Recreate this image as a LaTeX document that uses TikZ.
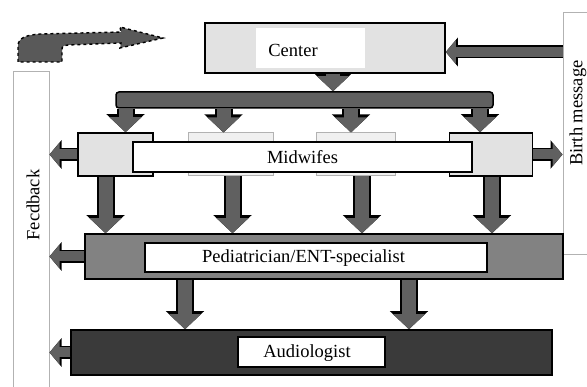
\documentclass[tikz,border=0pt]{standalone}
\usepackage{fontspec}
\setmainfont{Liberation Serif}
\usetikzlibrary{arrows.meta}
\definecolor{arrowgray}{RGB}{96,96,96}
\definecolor{pedgray}{RGB}{130,130,130}
\definecolor{audiogray}{RGB}{58,58,58}
\definecolor{lightbox}{RGB}{226,226,226}

\begin{document}
\begin{tikzpicture}[x=1pt, y=-1pt,
	box/.style={rectangle, inner sep=0pt, draw=black, line width=1.5pt},
	thinbox/.style={rectangle, inner sep=0pt, draw=gray!60, line width=1pt},
	txt/.style={font=\fontsize{18.5}{22}\selectfont, inner sep=0pt},
	fat/.style={draw=arrowgray, line width=14pt, -{Triangle[length=15pt,width=31pt]},
		preaction={draw=black, line width=18pt, -{Triangle[length=18pt,width=37pt]}}},
	side/.style={draw=arrowgray, line width=10pt, -{Triangle[length=10pt,width=23pt]},
		preaction={draw=black, line width=13pt, -{Triangle[length=12pt,width=28pt]}}}]
	\useasboundingbox (0,0) rectangle (587,387);
	\node[thinbox, minimum width=36pt, minimum height=330pt] (feedback) at (31,237) {};
	\node[txt, rotate=90] (feedbacklbl) at (33,205) {Fecdback};
	\node[thinbox, minimum width=40pt, minimum height=242pt] (birth) at (583,134) {};
	\node[txt, rotate=90] (birthlbl) at (578,113) {Birth message};
	\node[box, fill=lightbox, minimum width=240pt, minimum height=50pt] (center) at (325,48) {};
	\node[rectangle, fill=white, minimum width=109pt, minimum height=40pt] (centerw) at (310.5,48) {};
	\node[txt] (centerlbl) at (293,50) {Center};
	\node[box, fill=arrowgray, rounded corners=3pt, minimum width=377pt, minimum height=16pt] (bar) at (304.5,100) {};
	\node[box, fill=lightbox, minimum width=75pt, minimum height=43pt] (mw1) at (115.5,154.5) {};
	\node[thinbox, fill=gray!12, minimum width=85pt, minimum height=43pt] (mw2) at (230.5,154.5) {};
	\node[thinbox, fill=gray!12, minimum width=79pt, minimum height=43pt] (mw3) at (356,154.5) {};
	\node[box, fill=lightbox, minimum width=83pt, minimum height=43pt] (mw4) at (491,154.5) {};
	\node[box, txt, fill=white, minimum width=339pt, minimum height=30pt] (midwifes) at (302.5,157) {Midwifes};
	\node[box, fill=pedgray, minimum width=478pt, minimum height=45pt] (ped) at (324,256.5) {};
	\node[box, line width=1.2pt, fill=white, minimum width=342pt, minimum height=29pt] (pedw) at (316,257.5) {};
	\node[txt] (pedlbl) at (303.5,258) {Pediatrician/ENT-specialist};
	\node[box, fill=audiogray, minimum width=481pt, minimum height=45pt] (audio) at (311.5,352.5) {};
	\node[box, line width=1.2pt, fill=white, minimum width=147pt, minimum height=30pt] (audiow) at (311.5,352) {};
	\node[txt] (audiolbl) at (307,353) {Audiologist};
	\draw[fill=black!65, draw=black, dashed, line width=1.4pt] (18,62) -- (18,46) .. controls (18,38) and (26,35) .. (40,34) -- (121,32) -- (120,27) -- (163,38) -- (120,48) -- (121,43) -- (68,45) .. controls (62,46) .. (62,51) -- (62,62) -- cycle;
	\draw[side] ([yshift=-4pt]center.east -| birth.west) -- ([yshift=-4pt]center.east);
	\draw[fat] ([xshift=8pt]center.south) -- ([xshift=8pt]center.south |- bar.north);
	\foreach \n/\s in {mw1/10pt, mw2/-7pt, mw3/-5pt, mw4/-11pt}
		\draw[fat] ([xshift=\s]\n.north |- bar.south) -- ([xshift=\s]\n.north);
	\foreach \n/\s in {mw1/-10pt, mw2/2pt, mw3/6pt, mw4/1pt}
		\draw[fat] ([xshift=\s]\n.south) -- ([xshift=\s]\n.south |- ped.north);
	\foreach \s in {-126.5pt, 97.5pt}
		\draw[fat] ([xshift=\s]audio.north |- ped.south) -- ([xshift=\s]audio.north);
	\draw[side] (mw1.west) -- (mw1.west -| feedback.east);
	\draw[side] (mw4.east) -- (mw4.east -| birth.west);
	\draw[side] (ped.west) -- (ped.west -| feedback.east);
	\draw[side] (audio.west) -- (audio.west -| feedback.east);
\end{tikzpicture}
\end{document}
